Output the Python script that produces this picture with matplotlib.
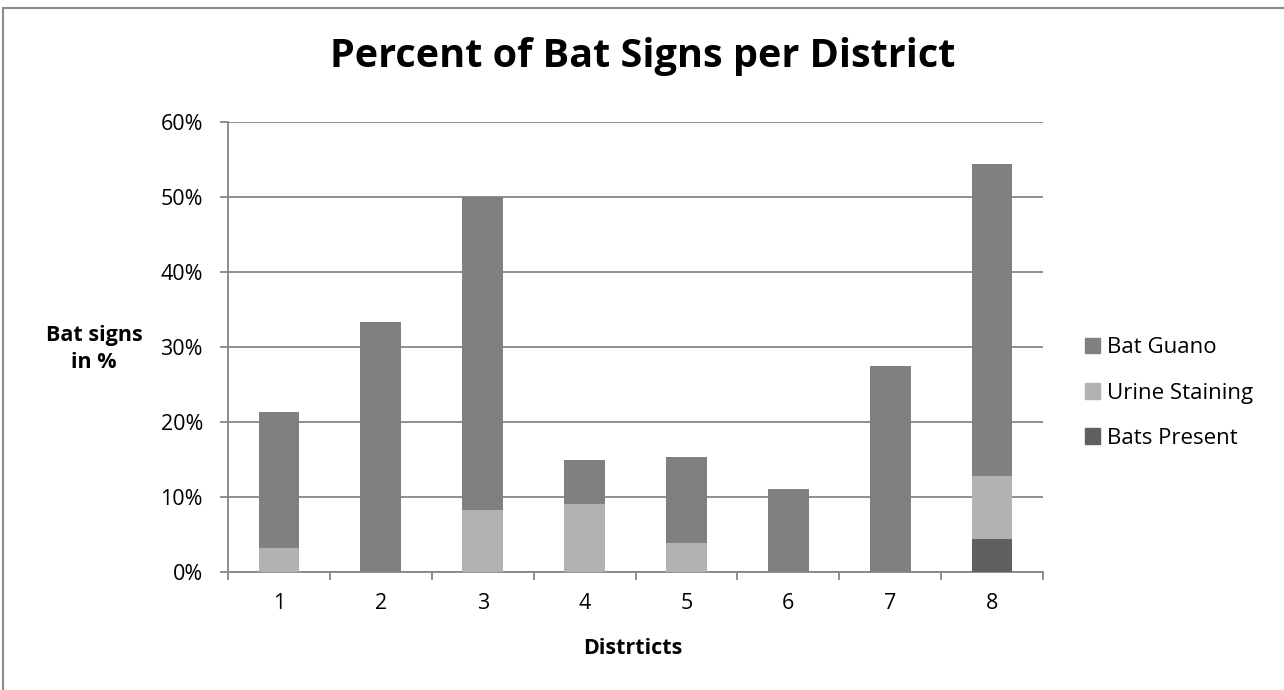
import matplotlib
matplotlib.use("Agg")
import matplotlib.pyplot as plt
from matplotlib.patches import Rectangle, Patch
import numpy as np

plt.rcParams['font.family'] = ['Open Sans', 'DejaVu Sans']

districts = ["1", "2", "3", "4", "5", "6", "7", "8"]
bats_present = [0.0, 0.0, 0.0, 0.0, 0.0, 0.0, 0.0, 4.4]
urine_staining = [3.2, 0.0, 8.3, 9.1, 3.9, 0.0, 0.0, 8.4]
bat_guano = [18.1, 33.3, 41.7, 5.8, 11.4, 11.1, 27.5, 41.6]
yticks = [0, 10, 20, 30, 40, 50, 60]
ytick_labels = ["0%", "10%", "20%", "30%", "40%", "50%", "60%"]

c_guano = "#808080"
c_urine = "#b2b2b2"
c_present = "#606060"
axis_col = "#868686"

fig = plt.figure(figsize=(12.84, 6.90), dpi=100)
fig.patches.append(Rectangle((3/1284, -0.1), 1.2, 1.1 - 8/690, transform=fig.transFigure,
                             fill=False, edgecolor="#8c8c8c", linewidth=1.5))
ax = fig.add_axes([228/1284, 1 - 572/690, (1043-228)/1284, (572-122)/690])

x = np.arange(len(districts))
bp = np.array(bats_present)
us = np.array(urine_staining)
bg = np.array(bat_guano)
w = 0.4
ax.bar(x, bp, w, color=c_present, zorder=3)
ax.bar(x, us, w, bottom=bp, color=c_urine, zorder=3)
ax.bar(x, bg, w, bottom=bp + us, color=c_guano, zorder=3)

ax.set_xlim(-0.5, len(districts) - 0.5)
ax.set_ylim(0, 60)
ax.set_yticks(yticks)
ax.set_yticklabels(ytick_labels)
ax.set_xticks(x)
ax.set_xticklabels(districts)
ax.set_xticks(np.arange(len(districts) + 1) - 0.5, minor=True)
ax.tick_params(axis='x', which='major', length=0, pad=15, labelsize=15.5)
ax.tick_params(axis='x', which='minor', length=6, color=axis_col, width=1.3)
ax.tick_params(axis='y', length=6, color=axis_col, width=1.3, labelsize=15.5, pad=12)

ax.grid(axis='y', color=axis_col, linewidth=1.3, zorder=0)
for s in ['top', 'right']:
    ax.spines[s].set_visible(False)
for s in ['left', 'bottom']:
    ax.spines[s].set_color(axis_col)
    ax.spines[s].set_linewidth(1.3)

fig.text(643/1284, 1 - 57/690, "Percent of Bat Signs per District", ha='center', va='center',
         fontsize=28.5, fontweight='bold')
fig.text(94/1284, 1 - 349/690, "Bat signs\nin %", ha='center', va='center',
         fontsize=15.5, fontweight='bold', linespacing=1.35)
fig.text(633/1284, 1 - 648/690, "Distrticts", ha='center', va='center',
         fontsize=15.5, fontweight='bold')

handles = [Patch(color=c_guano, label="Bat Guano"),
           Patch(color=c_urine, label="Urine Staining"),
           Patch(color=c_present, label="Bats Present")]
fig.legend(handles=handles, loc='center left', bbox_to_anchor=(1076/1284, 1 - 393/690),
           frameon=False, fontsize=16, handlelength=0.7, handleheight=0.7,
           handletextpad=0.3, labelspacing=1.1, borderaxespad=0)

fig.savefig("out.png", dpi=100)
